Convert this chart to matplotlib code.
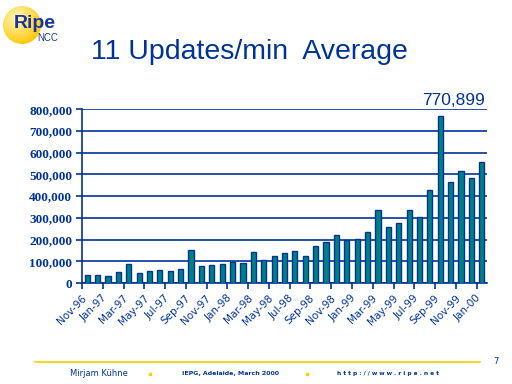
import numpy as np
import matplotlib
matplotlib.use("Agg")
import matplotlib.pyplot as plt
import matplotlib.transforms as mtransforms
from matplotlib.patches import Circle, Rectangle

# monthly average updates/min, Nov-96 .. Jan-00
months = ["Nov-96", "Dec-96", "Jan-97", "Feb-97", "Mar-97", "Apr-97", "May-97", "Jun-97",
          "Jul-97", "Aug-97", "Sep-97", "Oct-97", "Nov-97", "Dec-97", "Jan-98", "Feb-98",
          "Mar-98", "Apr-98", "May-98", "Jun-98", "Jul-98", "Aug-98", "Sep-98", "Oct-98",
          "Nov-98", "Dec-98", "Jan-99", "Feb-99", "Mar-99", "Apr-99", "May-99", "Jun-99",
          "Jul-99", "Aug-99", "Sep-99", "Oct-99", "Nov-99", "Dec-99", "Jan-00"]
updates = [35000, 35000, 31000, 49000, 87000, 45000, 54000, 58000,
           54000, 63000, 150000, 77000, 81000, 87000, 97000, 92000,
           141000, 104000, 123000, 137000, 146000, 123000, 169000, 187000,
           220000, 197000, 201000, 233000, 335000, 257000, 275000, 335000,
           303000, 427000, 770899, 464000, 515000, 482000, 556000]
y_ticks = [0, 100000, 200000, 300000, 400000, 500000, 600000, 700000, 800000]

blue = "#003399"
teal = "#008080"
yellow = "#FFCC00"

fig = plt.figure(figsize=(5.12, 3.84), dpi=100, facecolor="white")
ax = fig.add_axes([82 / 512, 1 - 283 / 384, 405 / 512, (283 - 109.3) / 384])

x = np.arange(len(updates))
ax.bar(x, updates, width=0.5, color=teal, edgecolor=blue, linewidth=1.0, zorder=3)

ax.set_xlim(-0.5, len(updates) - 0.5)
ax.set_ylim(0, 800000)
ax.set_yticks(y_ticks)
ax.set_yticklabels([f"{v:,}" for v in y_ticks], fontfamily="Liberation Serif",
                   fontweight="bold", fontsize=9.5, color=blue)
ax.yaxis.grid(True, color=blue, linewidth=1.2, zorder=1)
ax.tick_params(axis="y", length=4, width=1.2, color=blue, pad=3)

ax.set_xticks(x[::2])
ax.set_xticklabels(months[::2], rotation=45, ha="right", va="top", rotation_mode="anchor",
                   fontsize=7.5, color=blue)
ax.set_xticks(np.arange(-0.5, len(updates) - 1, 2), minor=True)
ax.tick_params(axis="x", which="major", length=0, pad=7)
ax.tick_params(axis="x", which="minor", length=4, width=1.2, color=blue)
shift = mtransforms.ScaledTranslation(-6 / 100, 0, fig.dpi_scale_trans)
for lbl in ax.get_xticklabels():
    lbl.set_transform(lbl.get_transform() + shift)

for s in ["top", "right"]:
    ax.spines[s].set_visible(False)
for s in ["left", "bottom"]:
    ax.spines[s].set_color(blue)
    ax.spines[s].set_linewidth(1.2)
ax.set_facecolor("none")

# peak label
ax.text(len(updates) - 0.75, 1.025, f"{max(updates):,}", transform=ax.get_xaxis_transform(),
        ha="right", va="baseline", fontsize=12.5, color=blue, fontfamily="Liberation Sans")

# title
fig.text(91 / 512, 1 - 52 / 384, "11 Updates/min  Average", ha="left", va="center",
         fontsize=20.5, color=blue, fontfamily="Liberation Sans")

# logo
lax = fig.add_axes([0, 1 - 50 / 384, 70 / 512, 50 / 384])
lax.set_xlim(0, 70)
lax.set_ylim(50, 0)
lax.axis("off")
gy, gx = np.mgrid[0:50, 0:70]
r = np.hypot(gx - 17, gy - 18) / 26
grad = np.clip(r, 0, 1)
img = np.zeros((50, 70, 3))
img[..., 0] = 1.0
img[..., 1] = 0.98 - 0.2 * grad
img[..., 2] = 0.75 - 0.7 * grad
im = lax.imshow(img, extent=(0, 70, 50, 0), zorder=1)
clip = Circle((22, 25), 19, transform=lax.transData)
im.set_clip_path(clip)
lax.text(14, 28, "Ripe", fontsize=14, fontweight="bold", color="#1a3399",
         fontfamily="Liberation Sans", va="baseline", zorder=3)
lax.text(37, 41, "NCC", fontsize=7, color="#1a3399", fontfamily="Liberation Sans",
         va="baseline", zorder=3)

# footer
fig.add_artist(plt.Line2D([35 / 512, 480 / 512], [1 - 362 / 384, 1 - 362 / 384],
                          color=yellow, linewidth=1.2))
fig.text(493 / 512, 1 - 362 / 384, "7", fontsize=6, color=blue, ha="left", va="center")
fig.text(70 / 512, 1 - 373 / 384, "Mirjam Kühne", fontsize=6, color=blue, ha="left", va="center")
fig.text(182 / 512, 1 - 373 / 384, "IEPG, Adelaide, March 2000", fontsize=4.5, color=blue,
         ha="left", va="center", fontweight="bold")
fig.text(337 / 512, 1 - 373 / 384, "h t t p : / / w w w . r i p e . n e t", fontsize=4.2,
         color=blue, ha="left", va="center", fontweight="bold")
for px in [149, 306]:
    fig.add_artist(Rectangle((px / 512, 1 - 375 / 384), 2 / 512, 2 / 384, color=yellow,
                             transform=fig.transFigure))

fig.savefig("out.png", dpi=100)
